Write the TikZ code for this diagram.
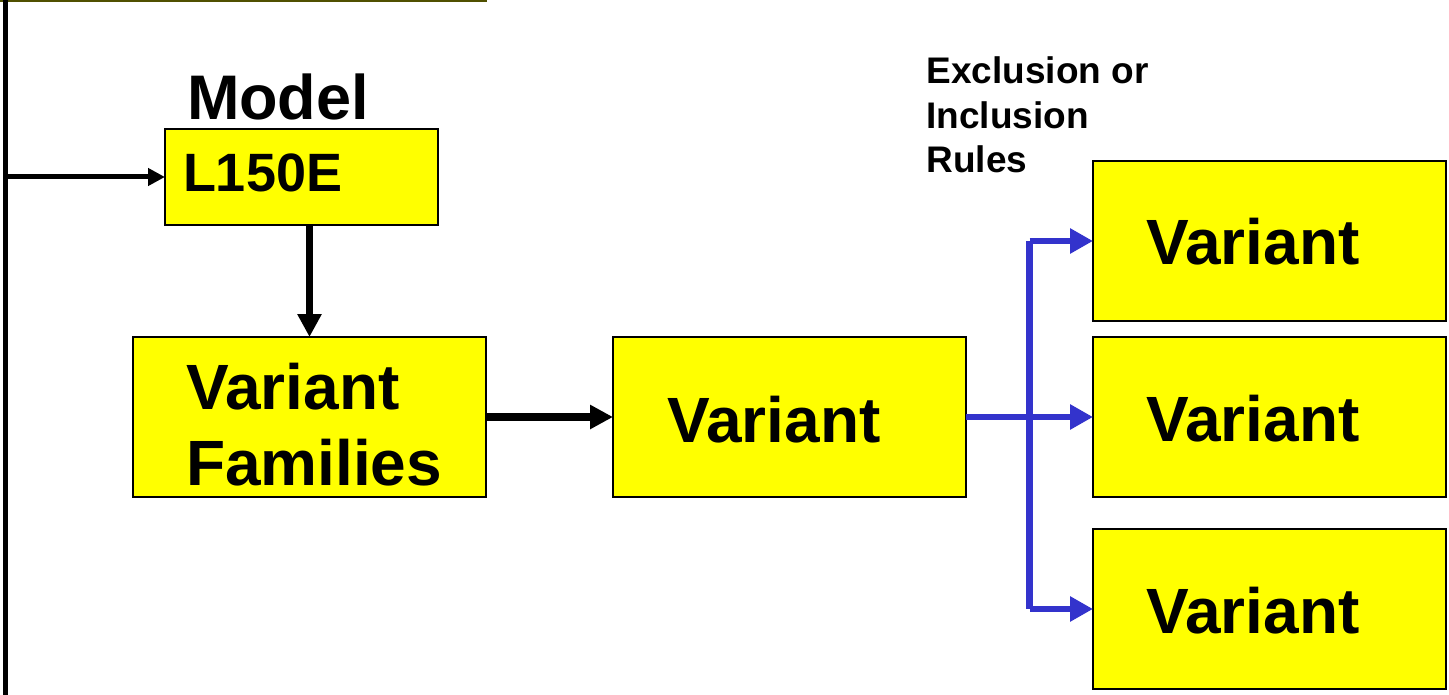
\documentclass[tikz,border=0pt]{standalone}
\usepackage{fontspec}
\setmainfont{Liberation Sans}
\usetikzlibrary{arrows.meta}
\definecolor{boxfill}{RGB}{255,255,0}
\definecolor{linkblue}{RGB}{51,51,204}
\definecolor{edgeolive}{RGB}{80,80,0}
\begin{document}
\begin{tikzpicture}[x=1pt,y=-1pt,
  box/.style={draw=black, line width=2pt, fill=boxfill, anchor=north west,
              inner sep=0pt, outer sep=0pt},
  bigbox/.style={box, minimum width=353pt, minimum height=160pt},
  label/.style={anchor=base west, inner sep=0pt, outer sep=0pt, align=left,
                font=\fontsize{64}{76}\selectfont\bfseries},
  small/.style={anchor=base west, inner sep=0pt, outer sep=0pt, align=left,
                font=\fontsize{37}{44.5}\selectfont\bfseries},
  thinarrow/.style={line width=5pt, -{Triangle[length=17pt,width=17pt]}},
  blackarrow/.style={line width=7.5pt, -{Triangle[length=23pt,width=23pt]}},
  bluelink/.style={draw=linkblue, line width=6.5pt},
  bluearrow/.style={bluelink, -{Triangle[length=23pt,width=24pt]}}
]
\useasboundingbox (0,0) rectangle (1449,695);

% edge of the block above, and the spine on the left
\coordinate (edgeL) at (0,1.2);
\coordinate (edgeR) at (487,1.2);
\draw[edgeolive, line width=2.4pt] (edgeL) -- (edgeR);
\coordinate (spineTop) at (5.5,0);
\coordinate (spineBot) at (5.5,695);
\draw[line width=5pt] (spineTop) -- (spineBot);

% model
\node[label, font=\fontsize{63}{75}\selectfont\bfseries] (modeltxt) at (187,120) {Model};
\node[box, minimum width=273pt, minimum height=96pt] (l150) at (165,129) {};
\node[label, font=\fontsize{54}{64}\selectfont\bfseries] (l150txt) at (183,192) {L150E};

% families and variants (multi-line labels sit on their last baseline)
\node[bigbox] (vf) at (133,337) {};
\node[label] (vftxt) at (186,485) {Variant\\Families};
\node[bigbox] (var) at (613,337) {};
\node[label] (vartxt) at (667,442) {Variant};

\node[bigbox] (r1) at (1093,161) {};
\node[label] (r1txt) at (1146,265) {Variant};
\node[bigbox] (r2) at (1093,337) {};
\node[label] (r2txt) at (1146,441) {Variant};
\node[bigbox] (r3) at (1093,529) {};
\node[label] (r3txt) at (1146,633) {Variant};

\node[small] (rules) at (926.5,173) {Exclusion or\\Inclusion\\Rules};

% black connectors
\coordinate (spineTap) at (8,177);
\draw[thinarrow] (spineTap) -- (l150.west);
\draw[blackarrow] (l150.south -| vf.north) -- (vf.north);
\draw[blackarrow] (vf.east) -- (var.west);

% blue fan-out
\coordinate (fork) at (1029.5,417);
\draw[bluearrow] (var.east) -- (r2.west);
\draw[bluelink] (fork |- r1.west) -- (fork |- r3.west);
\draw[bluearrow] (fork |- r1.west) -- (r1.west);
\draw[bluearrow] (fork |- r3.west) -- (r3.west);
\end{tikzpicture}
\end{document}
